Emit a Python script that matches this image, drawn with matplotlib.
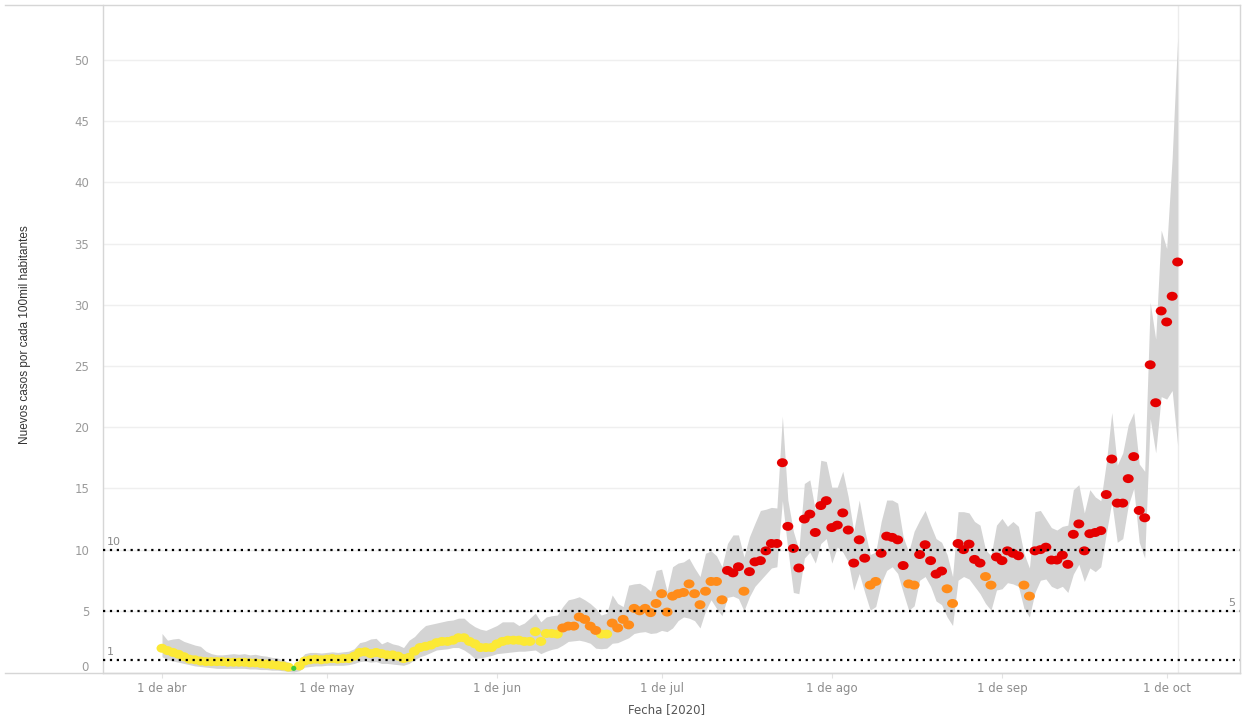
import numpy as np
import matplotlib
matplotlib.use("Agg")
import matplotlib.pyplot as plt
from matplotlib.path import Path
from matplotlib.lines import Line2D
from matplotlib.transforms import ScaledTranslation

# ---------------- data (day index 0 = 1 de abril 2020) ----------------
values = [1.94, 1.75, 1.6, 1.45, 1.25, 1.05, 1.0, 0.9, 0.85, 0.85,
          0.85, 0.85, 0.8, 0.8, 0.8, 0.8, 0.75, 0.75, 0.7, 0.65,
          0.6, 0.55, 0.5, 0.4, 0.3, 0.5, 0.9, 1.0, 1.05, 1.0,
          1.05, 1.1, 1.05, 1.1, 1.1, 1.3, 1.6, 1.65, 1.5, 1.6,
          1.5, 1.4, 1.4, 1.3, 1.1, 1.2, 1.7, 2.0, 2.1, 2.2,
          2.4, 2.5, 2.5, 2.6, 2.8, 2.8, 2.5, 2.3, 2.0, 2.0,
          2.0, 2.3, 2.5, 2.6, 2.6, 2.6, 2.5, 2.5, 3.3, 2.5,
          3.15, 3.15, 3.1, 3.6, 3.75, 3.75, 4.5, 4.3, 3.75, 3.4,
          3.1, 3.1, 4.0, 3.6, 4.3, 3.85, 5.2, 5.0, 5.2, 4.85,
          5.6, 6.4, 4.9, 6.2, 6.4, 6.5, 7.2, 6.4, 5.5, 6.6,
          7.4, 7.4, 5.9, 8.3, 8.1, 8.6, 6.6, 8.2, 9.0, 9.1,
          9.9, 10.5, 10.5, 17.1, 11.9, 10.1, 8.5, 12.5, 12.9, 11.4,
          13.6, 14.0, 11.8, 12.0, 13.0, 11.6, 8.9, 10.8, 9.3, 7.1,
          7.4, 9.7, 11.1, 11.0, 10.8, 8.7, 7.2, 7.1, 9.6, 10.4,
          9.1, 8.0, 8.25, 6.8, 5.6, 10.5, 10.0, 10.45, 9.2, 8.9,
          7.8, 7.1, 9.4, 9.1, 9.9, 9.7, 9.5, 7.1, 6.2, 9.9,
          10.0, 10.2, 9.15, 9.15, 9.55, 8.8, 11.25, 12.1, 9.9, 11.3,
          11.4, 11.55, 14.5, 17.4, 13.8, 13.8, 15.8, 17.6, 13.2, 12.6,
          25.1, 22.0, 29.5, 28.6, 30.7, 33.5]

band_lower = [1.25, 1.0, 0.9, 0.8, 0.7, 0.6, 0.5, 0.45, 0.4, 0.35,
              0.3, 0.3, 0.3, 0.3, 0.3, 0.3, 0.25, 0.25, 0.2, 0.2,
              0.15, 0.15, 0.1, 0.05, 0.0, 0.1, 0.4, 0.45, 0.5, 0.5,
              0.55, 0.55, 0.55, 0.55, 0.6, 0.7, 0.85, 0.9, 0.8, 0.85,
              0.7, 0.7, 0.65, 0.6, 0.55, 0.7, 1.0, 1.25, 1.4, 1.6,
              1.8, 1.85, 1.9, 2.0, 2.0, 1.8, 1.5, 1.1, 1.15, 1.25,
              1.35, 1.5, 1.55, 1.6, 1.65, 1.7, 1.7, 1.75, 1.8, 1.5,
              1.7, 1.85, 1.95, 2.2, 2.5, 2.55, 2.6, 2.5, 2.35, 1.95,
              1.9, 1.95, 2.35, 2.4, 2.6, 2.8, 3.15, 3.25, 3.3, 3.15,
              3.2, 3.4, 3.3, 3.6, 4.2, 4.5, 4.4, 4.2, 3.6, 5.0,
              5.9, 5.2, 4.6, 6.1, 6.2, 6.0, 5.0, 6.15, 7.0, 7.5,
              8.0, 8.5, 8.6, 14.0, 10.0, 6.5, 6.4, 9.3, 9.8, 8.9,
              10.5, 10.9, 8.9, 10.2, 9.8, 9.0, 6.7, 8.05, 6.5, 5.05,
              5.35, 7.25, 8.3, 8.6, 8.05, 6.5, 5.05, 5.4, 7.5, 7.8,
              7.0, 5.8, 5.5, 4.5, 3.8, 7.5, 7.8, 7.6, 7.0, 6.4,
              5.6, 5.05, 6.7, 6.8, 7.3, 7.2, 7.0, 5.2, 4.5, 6.5,
              7.5, 7.6, 7.0, 6.8, 7.0, 6.5, 8.0, 8.8, 7.4, 8.5,
              8.2, 8.6, 11.3, 13.9, 10.6, 10.9, 13.6, 15.0, 10.6, 9.3,
              20.7, 17.9, 22.5, 22.3, 23.0, 18.5]

band_upper = [3.15, 2.6, 2.7, 2.75, 2.5, 2.35, 2.2, 2.1, 1.7, 1.5,
              1.4, 1.4, 1.45, 1.5, 1.45, 1.5, 1.4, 1.45, 1.35, 1.3,
              1.2, 1.15, 1.0, 0.8, 0.4, 1.0, 1.5, 1.6, 1.6, 1.55,
              1.6, 1.65, 1.6, 1.65, 1.7, 1.9, 2.4, 2.5, 2.7, 2.75,
              2.3, 2.5, 2.3, 2.2, 2.0, 2.6, 2.9, 3.4, 3.8, 3.9,
              4.0, 4.1, 4.2, 4.25, 4.4, 4.4, 4.0, 3.7, 3.5, 3.4,
              3.6, 3.8, 4.1, 4.1, 4.1, 3.8, 4.0, 4.4, 4.8, 4.1,
              4.5, 4.6, 4.65, 5.35, 5.9, 6.0, 6.15, 5.9, 5.6, 5.2,
              4.65, 4.8, 6.3, 5.6, 5.35, 7.1, 7.2, 7.25, 7.0, 6.6,
              8.3, 8.4, 6.6, 8.6, 8.9, 9.0, 9.3, 8.5, 7.8, 9.7,
              9.9, 9.5, 8.6, 10.5, 11.2, 11.2, 9.4, 11.05, 12.15, 13.2,
              13.3, 13.45, 13.4, 20.9, 14.05, 11.5, 10.0, 15.4, 15.7, 13.2,
              17.3, 17.2, 15.1, 15.1, 16.4, 14.3, 11.5, 14.05, 11.6, 9.6,
              9.8, 12.3, 14.05, 14.05, 13.8, 11.05, 9.8, 11.5, 12.4, 13.2,
              12.0, 10.9, 10.6, 9.6, 7.8, 13.1, 13.1, 13.0, 12.3, 12.0,
              10.0, 9.5, 12.0, 12.55, 11.9, 12.3, 11.9, 9.7, 8.5, 13.1,
              13.2, 12.5, 11.8, 11.6, 11.9, 12.0, 14.9, 15.3, 13.0, 14.9,
              14.3, 14.0, 17.1, 21.2, 16.9, 17.9, 20.2, 21.2, 17.0, 16.4,
              30.2, 27.2, 36.1, 34.6, 42.0, 51.8]

# colour category of each point, as (category, number of consecutive days)
category_runs = [("y", 24), ("g", 1), ("y", 48), ("o", 7), ("y", 2), ("o", 21),
                 ("r", 3), ("o", 1), ("r", 22), ("o", 2), ("r", 5), ("o", 2),
                 ("r", 5), ("o", 2), ("r", 5), ("o", 2), ("r", 5), ("o", 2),
                 ("r", 27)]

month_ticks = [0, 30, 61, 91, 122, 153, 183]
month_labels = ["1 de abr", "1 de may", "1 de jun", "1 de jul",
                "1 de ago", "1 de sep", "1 de oct"]
ref_levels = [1, 5, 10]

# ---------------- styling ----------------
cat_colors = {"y": "#FCE935", "g": "#3DCB3D", "o": "#FF8C1A", "r": "#E50000"}

days = np.arange(len(values))
cats = []
for c, n in category_runs:
    cats += [c] * n
cats = np.array(cats)
vals = np.array(values)

W, H = 1247, 720
fig = plt.figure(figsize=(W / 100, H / 100), dpi=100)
ax_h = 673 - 5
ax_w = 1240 - 103
ax = fig.add_axes([103 / W, 1 - 673 / H, ax_w / W, ax_h / H])

day_px = 5.49
x0 = -(162 - 103) / day_px
x1 = x0 + ax_w / day_px
ax.set_xlim(x0, x1)
ax.set_ylim(-0.08, ax_h / 12.24 - 0.08)

# gridlines
for gy in range(5, 55, 5):
    ax.axhline(gy, color="#efefef", lw=1.0, zorder=0)

# last-date vertical line
ax.axvline(days[-1], color="#ececec", lw=1.0, zorder=0)

# band
ax.fill_between(days, band_lower, band_upper, color="#d4d4d4", lw=0, zorder=1)

# points (slightly elliptical markers)
circ = Path.unit_circle()
ell = Path(circ.vertices * np.array([1.22, 1.0]), circ.codes)
for c in ["y", "o", "r"]:
    m = cats == c
    ax.scatter(days[m], vals[m], s=62, marker=ell, color=cat_colors[c],
               edgecolors="none", zorder=3)
m = cats == "g"
ax.scatter(days[m], vals[m], s=14, marker="o", color=cat_colors["g"],
           edgecolors="none", zorder=4)

# reference dotted lines
for lv in ref_levels:
    ax.axhline(lv, color="black", lw=1.6, linestyle=(0, (1, 2.1)), zorder=5)

ax.text(x0 + 0.7, 10.25, "10", color="#8a8a8a", fontsize=8, va="bottom", ha="left")
ax.text(x0 + 0.7, 1.25, "1", color="#8a8a8a", fontsize=8, va="bottom", ha="left")
ax.text(x1 - 0.8, 5.25, "5", color="#8a8a8a", fontsize=8, va="bottom", ha="right")

# axes styling
for s in ["top", "right"]:
    ax.spines[s].set_visible(False)
ax.spines["left"].set_color("#d6d6d6")
ax.spines["bottom"].set_color("#d6d6d6")
ax.spines["left"].set_linewidth(1.0)
ax.spines["bottom"].set_linewidth(1.0)

ax.set_yticks(range(0, 55, 5))
ax.set_yticklabels([str(v) for v in range(0, 55, 5)])
ax.tick_params(axis="y", length=0, pad=10, labelsize=8.5, labelcolor="#9a9a9a")
ax.set_xticks(month_ticks)
ax.set_xticklabels(month_labels)
ax.tick_params(axis="x", length=3.5, width=0.8, color="#e3e3e3", pad=3,
               labelsize=8.5, labelcolor="#8c8c8c")

ax.set_ylabel("Nuevos casos por cada 100mil habitantes", fontsize=8.5,
              color="#333333", family="Liberation Sans")
ax.yaxis.set_label_coords(-(103 - 31) / ax_w, (673 - 335) / ax_h)
ax.set_xlabel("Fecha [2020]", fontsize=8.5, color="#555555", va="center")
ax.xaxis.set_label_coords((667 - 103) / ax_w, -(710 - 673) / ax_h)

# shift the "0" label up a little (as in the reference)
lbl0 = ax.get_yticklabels()[0]
lbl0.set_transform(lbl0.get_transform() + ScaledTranslation(0, 6 / 100, fig.dpi_scale_trans))

# frame lines (figure coords)
fig.add_artist(Line2D([5 / W, 1240 / W], [1 - 673 / H, 1 - 673 / H], color="#d6d6d6", lw=1.0))
fig.add_artist(Line2D([5 / W, 1240 / W], [1 - 5 / H, 1 - 5 / H], color="#d6d6d6", lw=1.0))
fig.add_artist(Line2D([1240 / W, 1240 / W], [1 - 5 / H, 1 - 673 / H], color="#d6d6d6", lw=1.0))

fig.savefig("out.png", dpi=100)
